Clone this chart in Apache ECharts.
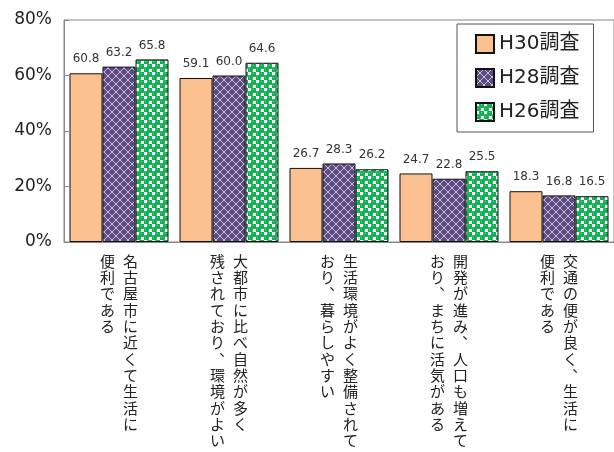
<!DOCTYPE html>
<html>
<head>
<meta charset="utf-8">
<script src="https://cdn.jsdelivr.net/npm/echarts@6/dist/echarts.min.js"></script>
<style>html,body{margin:0;padding:0;background:#fff}#c{width:614px;height:452px}</style>
</head>
<body>
<div id="c"></div>
<script>
const categories = [
  '名古屋市に近くて生活に\n便利である',
  '大都市に比べ自然が多く\n残されており、環境がよい',
  '生活環境がよく整備されて\nおり、暮らしやすい',
  '開発が進み、人口も増えて\nおり、まちに活気がある',
  '交通の便が良く、生活に\n便利である'
];
const seriesNames = ['H30調査', 'H28調査', 'H26調査'];
const h30 = [60.8, 59.1, 26.7, 24.7, 18.3];
const h28 = [63.2, 60.0, 28.3, 22.8, 16.8];
const h26 = [65.8, 64.6, 26.2, 25.5, 16.5];
const yTicks = [0, 20, 40, 60, 80];

function purplePattern() {
  const c = document.createElement('canvas');
  c.width = 8; c.height = 8;
  const g = c.getContext('2d');
  g.fillStyle = '#5c4a80'; g.fillRect(0, 0, 8, 8);
  g.strokeStyle = '#c9c0dc'; g.lineWidth = 1;
  g.beginPath();
  g.moveTo(0, 0); g.lineTo(8, 8);
  g.moveTo(8, 0); g.lineTo(0, 8);
  g.stroke();
  return c;
}
function greenPattern() {
  const c = document.createElement('canvas');
  c.width = 8; c.height = 8;
  const g = c.getContext('2d');
  g.fillStyle = '#ffffff'; g.fillRect(0, 0, 8, 8);
  g.fillStyle = '#0fb050';
  g.beginPath(); g.arc(2, 6, 3, 0, Math.PI * 2); g.fill();
  g.beginPath(); g.arc(6, 2, 3, 0, Math.PI * 2); g.fill();
  g.fillStyle = '#6fd896';
  g.fillRect(5, 1, 1, 1); g.fillRect(1, 5, 1, 1);
  return c;
}

const fills = [
  '#fac090',
  { image: purplePattern(), repeat: 'repeat' },
  { image: greenPattern(), repeat: 'repeat' }
];
const datas = [h30, h28, h26];

function vertLabel(val) {
  const parts = val.replace(/、/g, '︑').split('\n');
  const a = parts[0], b = parts[1] || '';
  const n = Math.max(a.length, b.length);
  const lines = [];
  for (let i = 0; i < n; i++) {
    lines.push('{c|' + (b[i] || '　') + '}{c|' + (a[i] || '　') + '}');
  }
  return lines.join('\n');
}

const chart = echarts.init(document.getElementById('c'));
chart.setOption({
  animation: false,
  backgroundColor: '#fff',
  grid: { left: 64, right: -3, top: 20, bottom: 210, show: true, borderColor: '#888', borderWidth: 1 },
  legend: {
    orient: 'vertical',
    left: 457, top: 24,
    padding: [10, 14, 10, 18],
    itemGap: 14,
    itemWidth: 18, itemHeight: 18,
    icon: 'rect',
    borderColor: '#555', borderWidth: 1,
    backgroundColor: '#fff',
    textStyle: { fontSize: 20, color: '#222', fontFamily: 'DejaVu Sans, Noto Sans CJK JP' },
    data: seriesNames
  },
  xAxis: {
    type: 'category',
    data: categories,
    axisLine: { lineStyle: { color: '#888' } },
    axisTick: { inside: true, length: 5, lineStyle: { color: '#888' } },
    axisLabel: {
      interval: 0,
      margin: 11,
      formatter: vertLabel,
      rich: {
        c: { width: 23, align: 'center', fontSize: 15, lineHeight: 16.3, color: '#222', fontFamily: 'Noto Sans CJK JP' }
      }
    }
  },
  yAxis: {
    type: 'value',
    min: yTicks[0], max: yTicks[yTicks.length - 1], interval: 20,
    axisLine: { show: true, lineStyle: { color: '#888' } },
    axisTick: { show: true, inside: true, length: 5, lineStyle: { color: '#888' } },
    splitLine: { show: false },
    axisLabel: { formatter: '{value}%', fontSize: 17, color: '#222', margin: 12, fontFamily: 'DejaVu Sans' }
  },
  series: seriesNames.map((name, i) => ({
    name: name,
    type: 'bar',
    data: datas[i],
    barGap: '0%',
    barCategoryGap: '10%',
    itemStyle: { color: fills[i], borderColor: '#111', borderWidth: 1 },
    label: {
      show: true, position: 'top', distance: 8,
      formatter: (p) => p.value.toFixed(1),
      fontSize: 12, color: '#333', fontFamily: 'DejaVu Sans'
    }
  }))
});
</script>
</body>
</html>
